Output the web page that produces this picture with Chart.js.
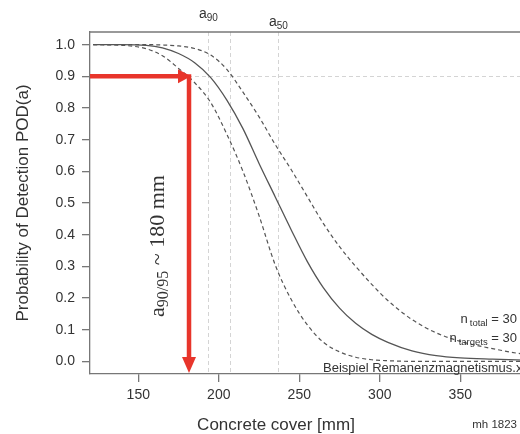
<!DOCTYPE html>
<html>
<head>
<meta charset="utf-8">
<script src="https://cdn.jsdelivr.net/npm/chart.js@4.4.3/dist/chart.umd.min.js"></script>
<style>
  html, body { margin: 0; padding: 0; background: #fff; overflow: hidden; }
  #wrap { position: relative; width: 545px; height: 434px; }
</style>
</head>
<body>
<div id="wrap"><canvas id="pod"></canvas></div>
<script>
const cover    = [122, 140, 155, 165, 175, 185, 195, 205, 215, 225, 235, 245, 255, 265, 275, 285, 295, 305, 320, 335, 350, 370, 390, 400];
// POD fit and its two confidence bounds
const podFit   = [1.0, 1.0, 0.998, 0.99, 0.972, 0.943, 0.896, 0.825, 0.735, 0.625, 0.52, 0.415, 0.315, 0.232, 0.168, 0.12, 0.085, 0.06, 0.033, 0.018, 0.011, 0.007, 0.004, 0.003];
const podUpper = [1.0, 1.0, 1.0, 0.999, 0.996, 0.988, 0.967, 0.922, 0.85, 0.772, 0.685, 0.605, 0.52, 0.435, 0.362, 0.3, 0.243, 0.192, 0.132, 0.09, 0.063, 0.04, 0.022, 0.016];
const podLower = [1.0, 0.998, 0.987, 0.965, 0.925, 0.88, 0.817, 0.717, 0.6, 0.46, 0.305, 0.195, 0.115, 0.06, 0.03, 0.013, 0.005, 0.002, 0.0, 0.0, 0.0, 0.0, 0.0, 0.0];

const xTicks = [150, 200, 250, 300, 350];
const yTicks = [0, 0.1, 0.2, 0.3, 0.4, 0.5, 0.6, 0.7, 0.8, 0.9, 1.0];

// marker lines
const a90 = 193.5;
const a90b = 207;
const a50 = 237;
const a9095 = 181.5;
const podLevel = 0.9;
const nTotal = 30;
const nTargets = 30;

const SANS = '"Liberation Sans", Arial, sans-serif';
const SERIF = '"Liberation Serif", "Times New Roman", serif';
const INK = '#333';
const AXIS = '#777';
const RED = '#e8352b';

function pts(ys) {
    return cover.map((x, i) => ({ x: x, y: ys[i] }));
}

// draws pieces of text, some lowered as subscripts
function drawPieces(ctx, pieces, x, y, align) {
    let total = 0;
    pieces.forEach(p => {
        ctx.font = p.size + 'px ' + (p.family || SANS);
        p.w = ctx.measureText(p.t).width;
        total += p.w + (p.gap || 0);
    });
    let cx = align === 'right' ? x - total : align === 'center' ? x - total / 2 : x;
    ctx.textAlign = 'left';
    ctx.textBaseline = 'alphabetic';
    pieces.forEach(p => {
        ctx.font = p.size + 'px ' + (p.family || SANS);
        cx += (p.gap || 0);
        ctx.fillText(p.t, cx, y + (p.dy || 0));
        cx += p.w;
    });
}

const podDecor = {
    id: 'podDecor',
    beforeDatasetsDraw(chart) {
        const { ctx, chartArea: a, scales: { x, y } } = chart;
        ctx.save();
        ctx.strokeStyle = '#d4d4d4';
        ctx.lineWidth = 1;
        ctx.setLineDash([4, 3]);
        [a90, a90b, a50].forEach(v => {
            const px = Math.round(x.getPixelForValue(v)) + 0.5;
            ctx.beginPath();
            ctx.moveTo(px, a.top);
            ctx.lineTo(px, a.bottom);
            ctx.stroke();
        });
        const py = Math.round(y.getPixelForValue(podLevel)) + 0.5;
        ctx.beginPath();
        ctx.moveTo(a.left, py);
        ctx.lineTo(a.right, py);
        ctx.stroke();
        ctx.restore();
    },
    afterDraw(chart) {
        const { ctx, chartArea: a, scales: { x, y } } = chart;
        ctx.save();

        // top of the plot box
        ctx.strokeStyle = AXIS;
        ctx.lineWidth = 1.3;
        ctx.beginPath();
        ctx.moveTo(a.left, a.top);
        ctx.lineTo(a.right, a.top);
        ctx.stroke();

        // red arrows to a90/95
        const ax = x.getPixelForValue(a9095);
        const ay = y.getPixelForValue(podLevel);
        const bottom = a.bottom - 1;
        ctx.strokeStyle = RED;
        ctx.fillStyle = RED;
        ctx.lineWidth = 4.5;
        ctx.beginPath();
        ctx.moveTo(a.left, ay);
        ctx.lineTo(ax - 10, ay);
        ctx.stroke();
        ctx.beginPath();
        ctx.moveTo(ax + 2, ay);
        ctx.lineTo(ax - 11, ay - 7);
        ctx.lineTo(ax - 11, ay + 7);
        ctx.closePath();
        ctx.fill();
        ctx.beginPath();
        ctx.moveTo(ax, ay - 2.2);
        ctx.lineTo(ax, bottom - 14);
        ctx.stroke();
        ctx.beginPath();
        ctx.moveTo(ax, bottom);
        ctx.lineTo(ax - 7, bottom - 16);
        ctx.lineTo(ax + 7, bottom - 16);
        ctx.closePath();
        ctx.fill();

        // rotated note beside the arrow
        ctx.fillStyle = INK;
        ctx.save();
        ctx.translate(164, 246);
        ctx.rotate(-Math.PI / 2);
        drawPieces(ctx, [
            { t: 'a', size: 22, family: SERIF },
            { t: '90/95', size: 16, family: SERIF, dy: 4 },
            { t: ' ~ 180 mm', size: 22, family: SERIF }
        ], 0, 0, 'center');
        ctx.restore();

        // a90 / a50 labels above the box
        drawPieces(ctx, [
            { t: 'a', size: 14 },
            { t: '90', size: 10, dy: 3 }
        ], x.getPixelForValue(a90), 18, 'center');
        drawPieces(ctx, [
            { t: 'a', size: 14 },
            { t: '50', size: 10, dy: 3 }
        ], x.getPixelForValue(a50), 26, 'center');

        // sample sizes
        drawPieces(ctx, [
            { t: 'n', size: 13 },
            { t: 'total', size: 9.5, dy: 3, gap: 2 },
            { t: ' = ' + nTotal, size: 13 }
        ], 517, 323, 'right');
        drawPieces(ctx, [
            { t: 'n', size: 13 },
            { t: 'targets', size: 9.5, dy: 3, gap: 2 },
            { t: ' = ' + nTargets, size: 13 }
        ], 517, 342, 'right');

        ctx.font = '13px ' + SANS;
        ctx.textAlign = 'left';
        ctx.textBaseline = 'alphabetic';
        ctx.fillText('Beispiel Remanenzmagnetismus.xls', 323, 372);

        // axis title and stamp below
        ctx.font = '17px ' + SANS;
        ctx.textAlign = 'center';
        ctx.textBaseline = 'middle';
        ctx.fillText('Concrete cover [mm]', 276, 425);
        ctx.font = '11.5px ' + SANS;
        ctx.textAlign = 'right';
        ctx.fillText('mh 1823', 517, 425);

        ctx.restore();
    }
};

const curveStyle = {
    borderColor: '#555',
    borderWidth: 1.2,
    pointRadius: 0,
    fill: false,
    cubicInterpolationMode: 'monotone'
};

new Chart(document.getElementById('pod'), {
    type: 'line',
    data: {
        datasets: [
            Object.assign({ label: 'POD', data: pts(podFit) }, curveStyle, { borderWidth: 1.3 }),
            Object.assign({ label: 'upper bound', data: pts(podUpper), borderDash: [4, 3] }, curveStyle),
            Object.assign({ label: 'lower bound', data: pts(podLower), borderDash: [4, 3] }, curveStyle)
        ]
    },
    options: {
        responsive: true,
        maintainAspectRatio: false,
        animation: false,
        layout: { padding: { top: 32, right: 4.2, left: 0, bottom: 0 } },
        plugins: { legend: { display: false }, tooltip: { enabled: false } },
        scales: {
            x: {
                type: 'linear',
                min: 120,
                max: 400,
                afterBuildTicks: s => { s.ticks = xTicks.map(v => ({ value: v })); },
                afterFit: s => { s.height = 60; },
                border: { display: true, color: AXIS, width: 1.3 },
                grid: { drawOnChartArea: false, color: AXIS, tickLength: 8, lineWidth: 1.3 },
                ticks: { color: INK, padding: 5, font: { family: SANS, size: 14 }, maxRotation: 0 }
            },
            y: {
                min: -0.04,
                max: 1.04,
                afterBuildTicks: s => { s.ticks = yTicks.map(v => ({ value: v })); },
                afterFit: s => { s.width = 90; },
                border: { display: true, color: AXIS, width: 1.3 },
                grid: { drawOnChartArea: false, color: AXIS, tickLength: 8, lineWidth: 1.3 },
                ticks: { color: INK, padding: 7, font: { family: SANS, size: 14 }, callback: v => v.toFixed(1) },
                title: {
                    display: true,
                    text: 'Probability of Detection POD(a)',
                    color: INK,
                    font: { family: SANS, size: 17 },
                    padding: { top: 13, bottom: 0 }
                }
            }
        }
    },
    plugins: [podDecor]
});
</script>
</body>
</html>
